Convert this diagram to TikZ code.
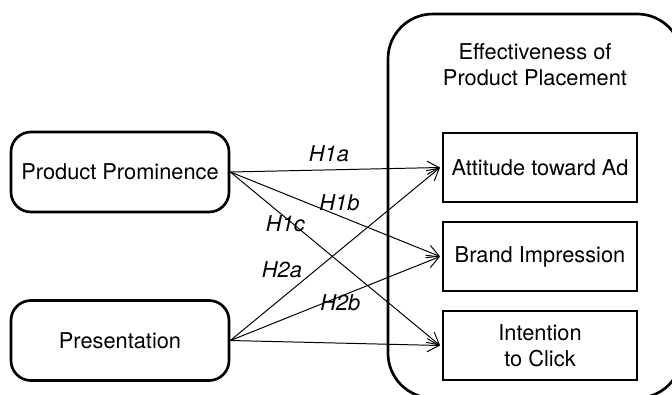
\documentclass[tikz,border=0pt]{standalone}
\usepackage{fontspec}
\setmainfont{TeX Gyre Heros}
\usetikzlibrary{arrows.meta}

\begin{document}
\begin{tikzpicture}[x=0.025cm, y=-0.025cm,
    font=\fontsize{15.5}{18.5}\selectfont,
    factor/.style={draw, line width=1.9pt, rounded corners=0.5cm,
      minimum width=5.45cm, minimum height=2cm},
    outcome/.style={draw, line width=1.1pt, align=center,
      minimum width=4.85cm, minimum height=1.725cm},
    hyp/.style={-{Straight Barb[length=3mm,width=3.3mm]}, line width=0.7pt},
    hlabel/.style={font=\fontsize{15.5}{18.5}\selectfont\itshape, inner sep=1pt}]
  \useasboundingbox (0,0) rectangle (672,395);

  % outer frame (runs off the page on the right and bottom)
  \begin{scope}
    \clip (0,0) rectangle (672,395);
    \draw[line width=1.9pt, rounded corners=1.12cm] (388,14) rectangle (682,398);
  \end{scope}
  \node[align=center] (title) at (535,65) {Effectiveness of\\Product Placement};

  % independent variables
  \node[factor] (prom) at (120,172) {Product Prominence};
  \node[factor] (pres) at (120,340.5) {Presentation};

  % dependent variables
  \node[outcome] (att) at (540,167.5) {Attitude toward Ad};
  \node[outcome] (brand) at (540,256.5) {Brand Impression};
  \node[outcome] (click) at (540,345.5) {Intention\\to Click};

  % hypotheses
  \draw[hyp] (prom.east) -- ([xshift=-1.5pt]att.west)
    node[hlabel, pos=0.47, above=4.5pt] (h1a) {H1a};
  \draw[hyp] (prom.east) -- ([xshift=-1.5pt]brand.west)
    node[hlabel, pos=0.52, above=2.5pt] (h1b) {H1b};
  \draw[hyp] (prom.east) -- ([xshift=-1.5pt]click.west)
    node[hlabel, pos=0.262, yshift=-4.6pt] (h1c) {H1c};
  \draw[hyp] (pres.east) -- ([xshift=-1.5pt]att.west)
    node[hlabel, pos=0.35, anchor=south east] (h2a) {H2a};
  \draw[hyp] (pres.east) -- ([xshift=-1.5pt]brand.west)
    node[hlabel, pos=0.524, yshift=-4.25pt] (h2b) {H2b};
  \draw[hyp] (pres.east) -- ([xshift=-1.5pt]click.west);
\end{tikzpicture}
\end{document}
